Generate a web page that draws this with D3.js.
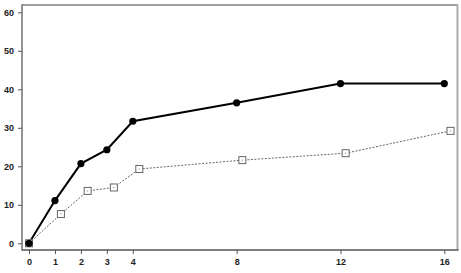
<!DOCTYPE html>
<html><head><meta charset="utf-8">
<script src="https://cdn.jsdelivr.net/npm/d3@7"></script>
<style>body{margin:0;background:#fff}svg{display:block}</style>
</head><body><svg id="c" width="461" height="273"></svg>
<script>
const xTicks = [0, 1, 2, 3, 4, 8, 12, 16];
const yTicks = [0, 10, 20, 30, 40, 50, 60];
const solidX = [0, 1, 2, 3, 4, 8, 12, 16];
const solidY = [0, 11.1, 20.7, 24.3, 31.7, 36.5, 41.5, 41.5];
const dottedX = [0, 1.23, 2.26, 3.27, 4.25, 8.22, 12.2, 16.24];
const dottedY = [0, 7.6, 13.6, 14.5, 19.3, 21.6, 23.4, 29.2];

const svg = d3.select("#c");
const x = d3.scaleLinear().domain([0, 16]).range([29, 444.3]);
const y = d3.scaleLinear().domain([0, 60]).range([243.3, 12.3]);
const L = 22, R = 457.5, T = 5, B = 250;

// frame
svg.append("line").attr("x1", L).attr("x2", R).attr("y1", T).attr("y2", T).attr("stroke", "#808080").attr("stroke-width", 1.5);
svg.append("line").attr("x1", R).attr("x2", R).attr("y1", T - 0.7).attr("y2", B).attr("stroke", "#aaaaaa").attr("stroke-width", 2);

// axes
const xAxis = d3.axisBottom(x).tickValues(xTicks).tickSize(4).tickPadding(5).tickFormat(d3.format("d"));
const gx = svg.append("g").attr("transform", `translate(0,${B})`).call(xAxis);
gx.select(".domain").remove();
gx.append("line").attr("x1", L).attr("x2", R + 1).attr("stroke", "#555").attr("stroke-width", 1.5);
const yAxis = d3.axisLeft(y).tickValues(yTicks).tickSize(4).tickPadding(4).tickFormat(d3.format("d"));
const gy = svg.append("g").attr("transform", `translate(${L},0)`).call(yAxis);
gy.select(".domain").remove();
gy.append("line").attr("y1", T - 0.7).attr("y2", B + 0.7).attr("stroke", "#707070").attr("stroke-width", 1.5);
svg.selectAll(".tick line").attr("stroke", "#555");
svg.selectAll(".tick text").attr("fill", "#222").style("font-family", "Liberation Sans, Arial, sans-serif").style("font-size", "9px").style("font-weight", "bold");

// dotted series
const dData = dottedX.map((v, i) => [v, dottedY[i]]);
const sData = solidX.map((v, i) => [v, solidY[i]]);
const line = d3.line().x(d => x(d[0])).y(d => y(d[1]));
svg.append("path").attr("d", line(dData)).attr("fill", "none").attr("stroke", "#666").attr("stroke-width", 1).attr("stroke-dasharray", "2,1.5");
svg.append("path").attr("d", line(sData)).attr("fill", "none").attr("stroke", "#000").attr("stroke-width", 2);

svg.selectAll("rect.sq").data(dData).join("rect").attr("class", "sq")
  .attr("x", d => x(d[0]) - 3.5).attr("y", d => y(d[1]) - 3.5).attr("width", 7).attr("height", 7)
  .attr("fill", "#fff").attr("stroke", "#666").attr("stroke-width", 1);
svg.selectAll("rect.dot").data(dData).join("rect").attr("class", "dot")
  .attr("x", d => x(d[0]) - 0.5).attr("y", d => y(d[1]) - 0.5).attr("width", 1).attr("height", 1)
  .attr("fill", "#777");
svg.selectAll("circle").data(sData).join("circle")
  .attr("cx", d => x(d[0])).attr("cy", d => y(d[1])).attr("r", 3.6).attr("fill", "#000");
</script></body></html>
